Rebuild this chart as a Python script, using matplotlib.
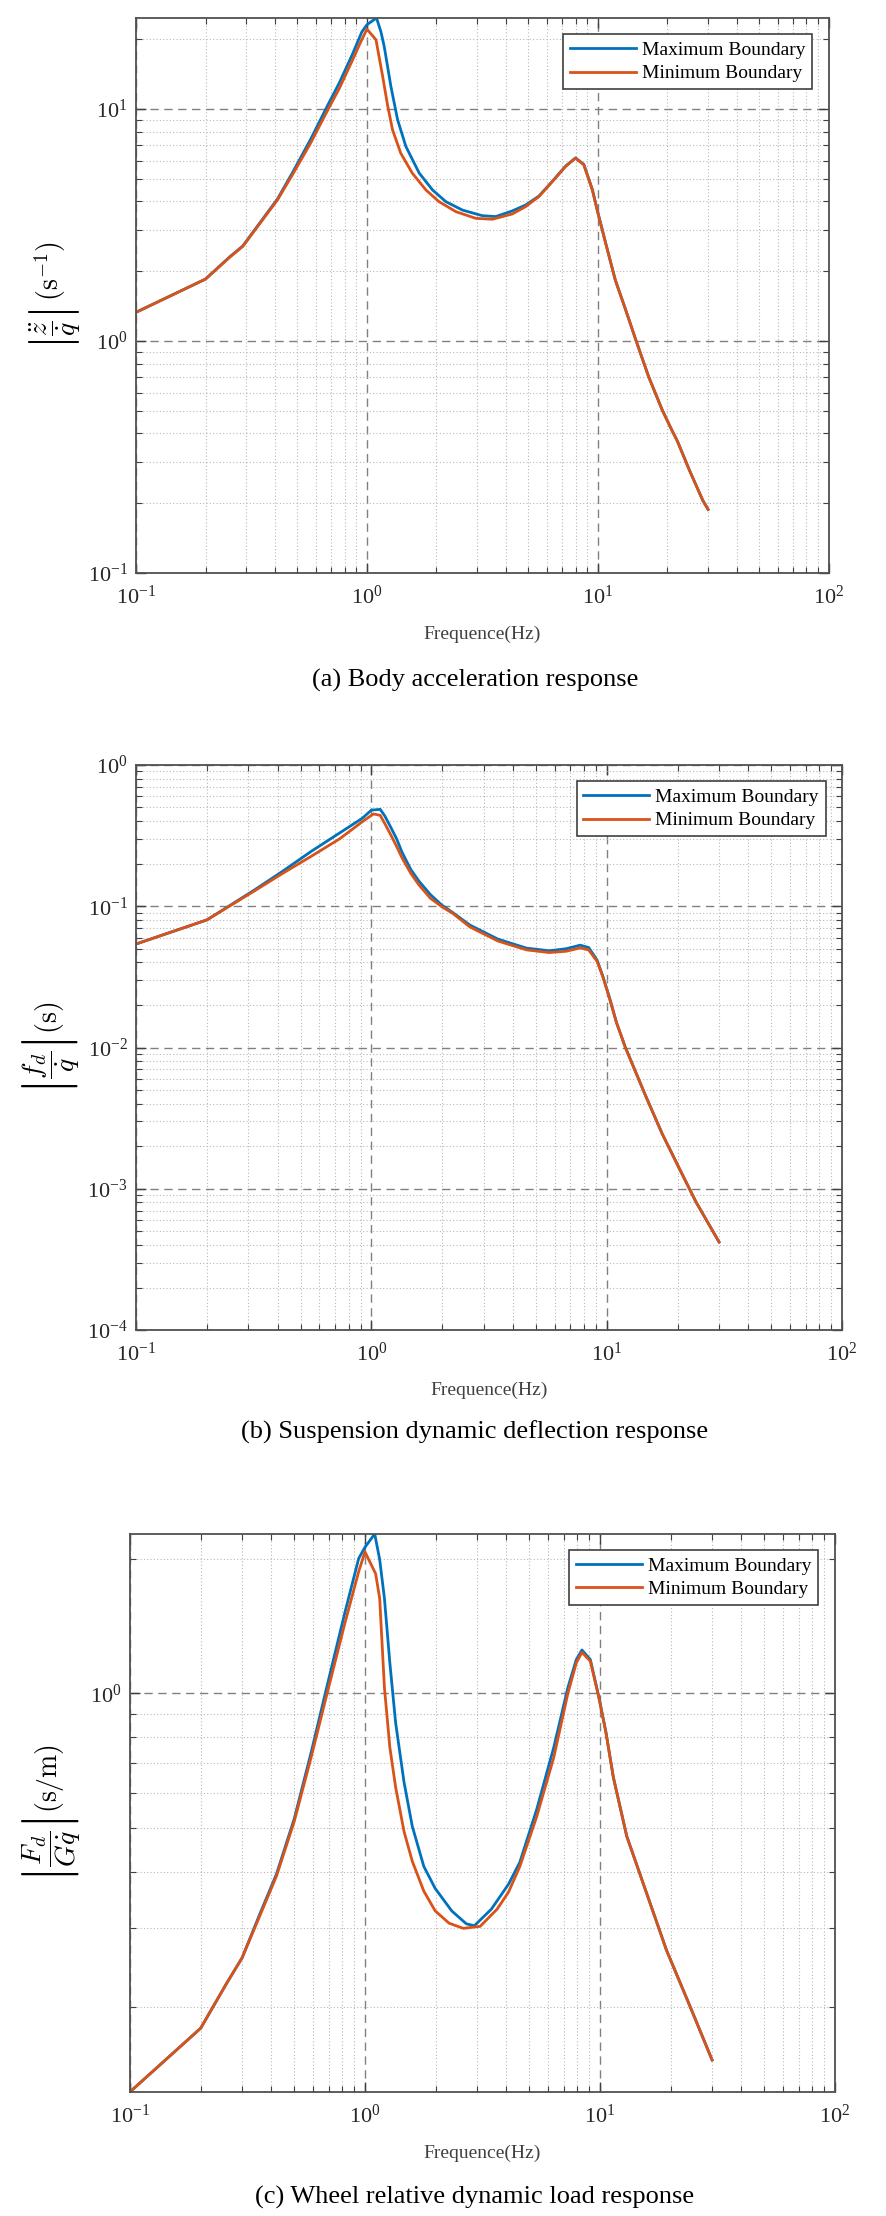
import numpy as np
import matplotlib
matplotlib.use("Agg")
import matplotlib.pyplot as plt
from matplotlib.ticker import LogLocator, LogFormatterMathtext, NullFormatter

plt.rcParams['mathtext.fontset'] = 'cm'
plt.rcParams['font.family'] = ['Liberation Serif', 'DejaVu Serif']

BLUE = '#0072BD'
ORANGE = '#D95319'

# (a) body acceleration response |z''/q'|
freq_a_max = [0.1, 0.2, 0.255, 0.29, 0.41, 0.48, 0.57, 0.68, 0.76, 0.867, 0.95, 1.0, 1.1, 1.15,
              1.188, 1.27, 1.357, 1.474, 1.683, 1.923, 2.195, 2.59, 3.16, 3.61, 4.26, 4.87,
              5.56, 6.35, 7.25, 8.0, 8.69, 9.46, 10.0, 10.8, 11.9, 13.2, 14.6, 16.6, 19.0,
              20.9, 22.1, 25, 28.5, 30]
acc_max = [1.33, 1.85, 2.31, 2.57, 4.1, 5.4, 7.4, 10.5, 13.0, 17.3, 21.5, 23.1, 24.7, 21.5,
           18.6, 12.5, 9.0, 6.9, 5.30, 4.48, 3.99, 3.67, 3.47, 3.44, 3.64, 3.86,
           4.22, 4.88, 5.68, 6.16, 5.77, 4.5, 3.58, 2.65, 1.83, 1.36, 1.01, 0.70, 0.504,
           0.413, 0.37, 0.275, 0.205, 0.188]
freq_a_min = [0.1, 0.2, 0.255, 0.29, 0.41, 0.48, 0.57, 0.68, 0.76, 0.867, 0.94, 1.0, 1.094,
              1.17, 1.23, 1.29, 1.40, 1.57, 1.80, 2.05, 2.43, 2.96, 3.49, 4.26, 4.87, 5.56,
              6.35, 7.25, 8.0, 8.69, 9.46, 10.0, 10.8, 11.9, 13.2, 14.6, 16.6, 19.0, 20.9,
              22.1, 25, 28.5, 30]
acc_min = [1.33, 1.85, 2.30, 2.56, 4.06, 5.29, 7.13, 10.0, 12.3, 16.3, 19.5, 22.1, 19.9,
           13.8, 10.3, 8.15, 6.46, 5.30, 4.48, 3.99, 3.61, 3.38, 3.35, 3.53, 3.80, 4.20,
           4.87, 5.66, 6.14, 5.75, 4.48, 3.56, 2.64, 1.83, 1.36, 1.01, 0.70, 0.504, 0.413,
           0.37, 0.275, 0.205, 0.188]

# (b) suspension dynamic deflection response |f_d/q'|
freq_b_max = [0.1, 0.2, 0.243, 0.32, 0.42, 0.556, 0.733, 0.916, 1.0, 1.09, 1.14, 1.21, 1.28,
              1.35, 1.47, 1.59, 1.78, 1.99, 2.22, 2.62, 3.45, 4.56, 5.69, 6.72, 7.71, 8.38,
              9.1, 9.62, 10.2, 11.0, 12.0, 14.6, 17.2, 20.3, 24.0, 30]
defl_max = [0.054, 0.080, 0.098, 0.131, 0.177, 0.245, 0.33, 0.42, 0.479, 0.485, 0.436, 0.361,
            0.30, 0.241, 0.182, 0.151, 0.121, 0.102, 0.09, 0.0736, 0.0585, 0.0505, 0.0484,
            0.050, 0.053, 0.051, 0.0415, 0.032, 0.0234, 0.015, 0.01, 0.00458, 0.00245,
            0.0014, 0.0008, 0.00042]
freq_b_min = [0.1, 0.2, 0.243, 0.32, 0.42, 0.556, 0.733, 0.916, 1.02, 1.09, 1.14, 1.21, 1.28,
              1.35, 1.47, 1.59, 1.78, 1.99, 2.22, 2.62, 3.45, 4.56, 5.69, 6.72, 7.71, 8.38,
              9.1, 9.62, 10.2, 11.0, 12.0, 14.6, 17.2, 20.3, 24.0, 30]
defl_min = [0.054, 0.080, 0.0975, 0.129, 0.171, 0.226, 0.300, 0.397, 0.45, 0.44, 0.385, 0.319,
            0.265, 0.22, 0.171, 0.142, 0.114, 0.0993, 0.0889, 0.0714, 0.0567, 0.0491, 0.047,
            0.048, 0.0507, 0.049, 0.0407, 0.0317, 0.0232, 0.015, 0.01, 0.00458, 0.00245,
            0.0014, 0.0008, 0.00042]

# (c) wheel relative dynamic load response |F_d/(G q')|
freq_c_max = [0.1, 0.2, 0.256, 0.30, 0.357, 0.42, 0.50, 0.59, 0.69, 0.82, 0.94, 1.0, 1.10,
              1.155, 1.21, 1.276, 1.35, 1.466, 1.59, 1.78, 1.99, 2.34, 2.7, 2.92, 3.45, 4.08,
              4.56, 5.38, 6.36, 7.30, 7.93, 8.38, 9.1, 9.9, 10.6, 11.4, 13.0, 15.4, 19.2, 24.0,
              30]
load_max = [0.129, 0.179, 0.224, 0.257, 0.322, 0.395, 0.525, 0.738, 1.04, 1.51, 2.0, 2.12,
            2.27, 1.99, 1.63, 1.17, 0.861, 0.634, 0.505, 0.411, 0.367, 0.327, 0.306, 0.303,
            0.33, 0.375, 0.42, 0.551, 0.758, 1.03, 1.19, 1.25, 1.19, 0.98, 0.82, 0.65, 0.48,
            0.372, 0.267, 0.202, 0.152]
freq_c_min = [0.1, 0.2, 0.256, 0.30, 0.357, 0.42, 0.50, 0.59, 0.69, 0.82, 0.94, 1.0, 1.11,
              1.155, 1.21, 1.276, 1.35, 1.466, 1.59, 1.78, 1.99, 2.28, 2.62, 3.09, 3.65, 4.08,
              4.56, 5.38, 6.36, 7.30, 7.93, 8.38, 9.1, 9.9, 10.6, 11.4, 13.0, 15.4, 19.2, 24.0,
              30]
load_min = [0.129, 0.179, 0.224, 0.257, 0.319, 0.391, 0.518, 0.72, 1.0, 1.43, 1.87, 2.07,
            1.85, 1.63, 1.03, 0.758, 0.618, 0.492, 0.422, 0.362, 0.327, 0.307, 0.299, 0.302,
            0.33, 0.36, 0.411, 0.531, 0.72, 1.0, 1.17, 1.235, 1.18, 0.977, 0.818, 0.65,
            0.48, 0.372, 0.267, 0.202, 0.152]


def style_axes(ax, ylim):
    ax.set_xscale('log')
    ax.set_yscale('log')
    ax.set_xlim(0.1, 100)
    ax.set_ylim(*ylim)
    for axis in (ax.xaxis, ax.yaxis):
        axis.set_major_locator(LogLocator(base=10, numticks=12))
        axis.set_minor_locator(LogLocator(base=10, subs=np.arange(2, 10), numticks=40))
        axis.set_major_formatter(LogFormatterMathtext())
        axis.set_minor_formatter(NullFormatter())
    ax.grid(which='major', linestyle=(0, (6, 4)), color='#808080', linewidth=1.0)
    ax.grid(which='minor', linestyle=(0, (1, 2)), color='#b8b8b8', linewidth=0.8)
    ax.tick_params(which='both', direction='in', top=True, right=True,
                   color='#404040', labelcolor='#262626', labelsize=16)
    ax.tick_params(which='major', length=7, width=1.0)
    ax.tick_params(which='minor', length=4, width=0.8)
    ax.tick_params(axis='x', pad=9)
    ax.tick_params(axis='y', pad=6)
    for s in ax.spines.values():
        s.set_color('#505050')
        s.set_linewidth(1.3)
    ax.set_xlabel('Frequence(Hz)', fontsize=14, color='#404040', va='top')
    ax.legend(loc='upper right', prop={'family': 'Liberation Serif', 'size': 14},
              fancybox=False, edgecolor='#404040', framealpha=1, handlelength=3.4,
              handletextpad=0.3, borderaxespad=0.85, labelspacing=0.3, borderpad=0.35)
    ax.get_legend().get_frame().set_linewidth(1.2)


fig = plt.figure(figsize=(8.86, 22.16), dpi=100)

ax1 = fig.add_axes([0.1535, 0.7414, 0.782, 0.2505])
ax1.plot(freq_a_max, acc_max, color=BLUE, lw=2.0, label='Maximum Boundary')
ax1.plot(freq_a_min, acc_min, color=ORANGE, lw=2.0, label='Minimum Boundary')
style_axes(ax1, (0.1, 24.7))
ax1.set_ylabel(r'$\left|\dfrac{\ddot{z}}{\dot{q}}\right|\,(\mathrm{s}^{-1})$', fontsize=20)
ax1.yaxis.set_label_coords(-0.078, 0.5)
ax1.xaxis.set_label_coords(0.5, -0.094)

ax2 = fig.add_axes([0.1535, 0.3998, 0.797, 0.255])
ax2.plot(freq_b_max, defl_max, color=BLUE, lw=2.0, label='Maximum Boundary')
ax2.plot(freq_b_min, defl_min, color=ORANGE, lw=2.0, label='Minimum Boundary')
style_axes(ax2, (1e-4, 1))
ax2.set_ylabel(r'$\left|\dfrac{f_d}{\dot{q}}\right|(\mathrm{s})$', fontsize=20)
ax2.yaxis.set_label_coords(-0.0765, 0.5)
ax2.xaxis.set_label_coords(0.5, -0.092)

ax3 = fig.add_axes([0.1467, 0.0560, 0.7957, 0.2518])
ax3.plot(freq_c_max, load_max, color=BLUE, lw=2.0, label='Maximum Boundary')
ax3.plot(freq_c_min, load_min, color=ORANGE, lw=2.0, label='Minimum Boundary')
style_axes(ax3, (0.129, 2.27))
ax3.set_ylabel(r'$\left|\dfrac{F_d}{G\dot{q}}\right|(\mathrm{s/m})$', fontsize=20)
ax3.yaxis.set_label_coords(-0.068, 0.5)
ax3.xaxis.set_label_coords(0.5, -0.095)

fig.text(0.536, 1 - 680 / 2216, '(a) Body acceleration response', ha='center', va='center', fontsize=19)
fig.text(0.536, 1 - 1432 / 2216, '(b) Suspension dynamic deflection response', ha='center', va='center', fontsize=19)
fig.text(0.536, 1 - 2197 / 2216, '(c) Wheel relative dynamic load response', ha='center', va='center', fontsize=19)

fig.savefig('out.png', dpi=100)
